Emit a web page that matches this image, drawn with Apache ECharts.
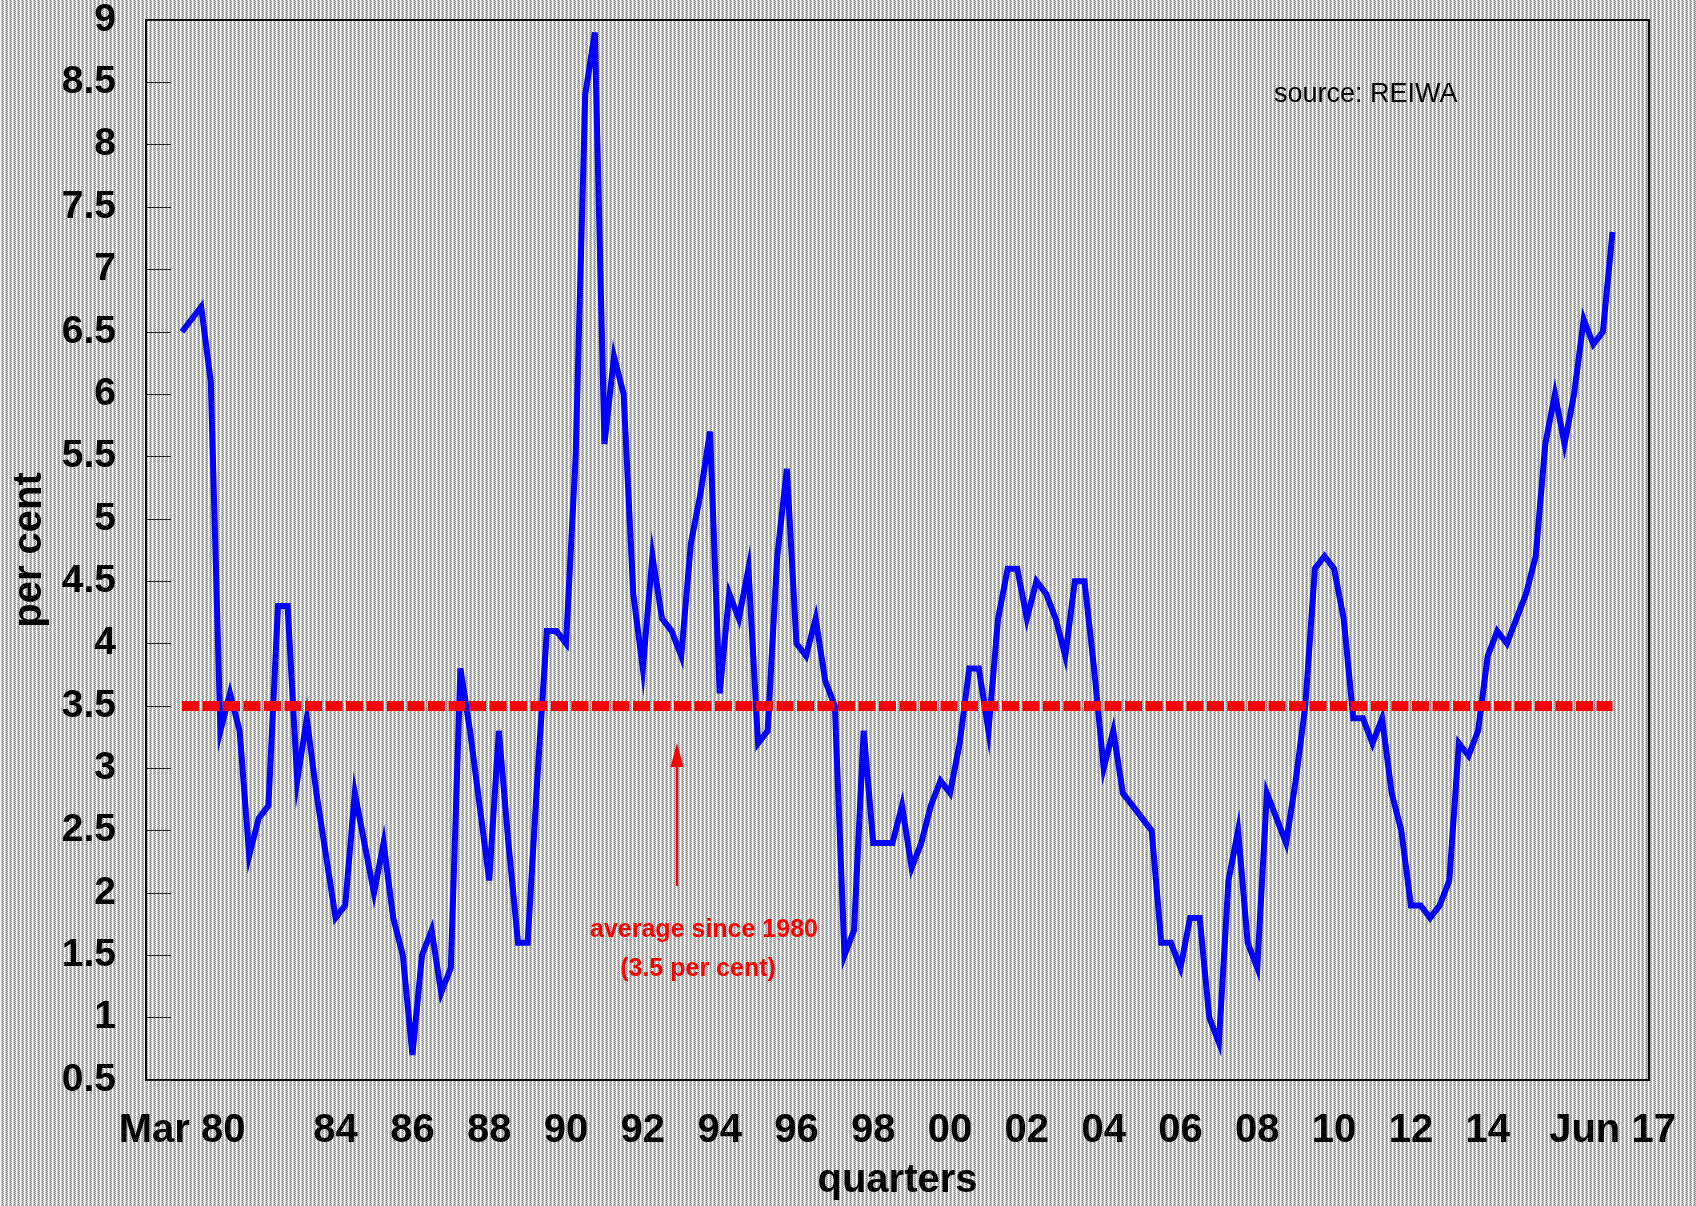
<!DOCTYPE html>
<html>
<head>
<meta charset="utf-8">
<script src="https://cdn.jsdelivr.net/npm/echarts@6/dist/echarts.min.js"></script>
<style>
html,body{margin:0;padding:0;width:1696px;height:1206px;overflow:hidden;background:#c4c4c4;}
#chart{width:1696px;height:1206px;}
</style>
</head>
<body>
<div id="chart"></div>
<script>
// Quarterly values, Mar 1980 .. Jun 2017 (per cent)
const values = [
  6.5, 6.6, 6.7, 6.1, 3.3, 3.6, 3.3, 2.3, 2.6, 2.7,
  4.3, 4.3, 2.9, 3.4, 2.8, 2.3, 1.8, 1.9, 2.8, 2.4,
  2.0, 2.4, 1.8, 1.5, 0.7, 1.5, 1.7, 1.2, 1.4, 3.8,
  3.3, 2.7, 2.1, 3.3, 2.4, 1.6, 1.6, 2.9, 4.1, 4.1,
  4.0, 5.5, 8.4, 8.9, 5.6, 6.3, 6.0, 4.4, 3.8, 4.7,
  4.2, 4.1, 3.9, 4.8, 5.2, 5.7, 3.6, 4.4, 4.2, 4.6,
  3.2, 3.3, 4.7, 5.4, 4.0, 3.9, 4.2, 3.7, 3.5, 1.5,
  1.7, 3.3, 2.4, 2.4, 2.4, 2.7, 2.2, 2.4, 2.7, 2.9,
  2.8, 3.2, 3.8, 3.8, 3.3, 4.2, 4.6, 4.6, 4.2, 4.5,
  4.4, 4.2, 3.9, 4.5, 4.5, 3.8, 3.0, 3.3, 2.8, 2.7,
  2.6, 2.5, 1.6, 1.6, 1.4, 1.8, 1.8, 1.0, 0.8, 2.1,
  2.5, 1.6, 1.4, 2.8, 2.6, 2.4, 2.9, 3.5, 4.6, 4.7,
  4.6, 4.2, 3.4, 3.4, 3.2, 3.4, 2.8, 2.5, 1.9, 1.9,
  1.8, 1.9, 2.1, 3.2, 3.1, 3.3, 3.9, 4.1, 4.0, 4.2,
  4.4, 4.7, 5.6, 6.0, 5.6, 6.0, 6.6, 6.4, 6.5, 7.3
];
const average = 3.5;
// x tick labels and the quarter index where each one sits
const xLabels = ['Mar 80', '84', '86', '88', '90', '92', '94', '96', '98', '00', '02', '04', '06', '08', '10', '12', '14', 'Jun 17'];
const xLabelIndex = [0, 16, 24, 32, 40, 48, 56, 64, 72, 80, 88, 96, 104, 112, 120, 128, 136, 149];

// stippled background pattern
function makePattern() {
  const c = document.createElement('canvas');
  c.width = 4; c.height = 2;
  const ctx = c.getContext('2d');
  const px = [[255, 195, 130, 220], [255, 220, 185, 150]];
  for (let y = 0; y < 2; y++) for (let x = 0; x < 4; x++) {
    const g = px[y][x];
    ctx.fillStyle = 'rgb(' + g + ',' + g + ',' + g + ')';
    ctx.fillRect(x, y, 1, 1);
  }
  return c;
}
const pat = makePattern();
document.body.style.background = 'url(' + pat.toDataURL() + ') repeat';

const font = '"Liberation Sans", Arial, Helvetica, sans-serif';
const chart = echarts.init(document.getElementById('chart'), null, {renderer: 'canvas'});
const labelMap = {};
xLabelIndex.forEach((v, k) => { labelMap[v] = xLabels[k]; });

chart.setOption({
  backgroundColor: {image: pat, repeat: 'repeat'},
  animation: false,
  grid: {left: 146, right: 47, top: 20, bottom: 123, show: true, borderColor: '#000', borderWidth: 2, backgroundColor: 'transparent'},
  xAxis: {
    type: 'value', min: -3.75, max: 152.8,
    name: 'quarters', nameLocation: 'middle', nameGap: 81,
    nameTextStyle: {fontFamily: font, fontWeight: 'bold', fontSize: 40, color: '#000'},
    axisLine: {show: false, onZero: false}, axisTick: {show: false}, splitLine: {show: false},
    axisLabel: {
      customValues: xLabelIndex,
      formatter: v => labelMap[v] !== undefined ? labelMap[v] : '',
      fontFamily: font, fontWeight: 'bold', fontSize: 40, color: '#000', margin: 31
    }
  },
  yAxis: {
    type: 'value', min: 0.5, max: 9, interval: 0.5,
    name: 'per cent', nameLocation: 'middle', nameGap: 96,
    nameTextStyle: {fontFamily: font, fontWeight: 'bold', fontSize: 40, color: '#000'},
    axisLine: {show: false, onZero: false},
    axisTick: {show: true, inside: true, length: 25, lineStyle: {color: '#222', width: 1}},
    splitLine: {show: false},
    axisLabel: {fontFamily: font, fontWeight: 'bold', fontSize: 39, color: '#000', margin: 30}
  },
  series: [
    {
      type: 'line', data: values.map((v, i) => [i, v]), symbol: 'none',
      lineStyle: {color: '#0000ff', width: 6, join: 'miter', miterLimit: 10},
      z: 2
    },
    {
      type: 'line', data: values.map((v, i) => [i, average]), symbol: 'none',
      lineStyle: {color: '#ff0000', width: 10, type: [17, 3.5], cap: 'butt'},
      z: 3
    }
  ],
  graphic: [
    {type: 'text', left: 1274, top: 81, style: {text: 'source: REIWA', fontFamily: font, fontSize: 27, fill: '#000'}},
    {type: 'line', shape: {x1: 677, y1: 886, x2: 677, y2: 760}, style: {stroke: '#ff0000', lineWidth: 2}},
    {type: 'polygon', shape: {points: [[677, 743], [683.5, 767], [670.5, 767]]}, style: {fill: '#ff0000'}},
    {type: 'text', x: 704, y: 930, style: {text: 'average since 1980', fontFamily: font, fontWeight: 'bold', fontSize: 25, fill: '#ff0000', textAlign: 'center', textVerticalAlign: 'middle'}},
    {type: 'text', x: 698, y: 969, style: {text: '(3.5 per cent)', fontFamily: font, fontWeight: 'bold', fontSize: 25, fill: '#ff0000', textAlign: 'center', textVerticalAlign: 'middle'}}
  ]
});
</script>
</body>
</html>
